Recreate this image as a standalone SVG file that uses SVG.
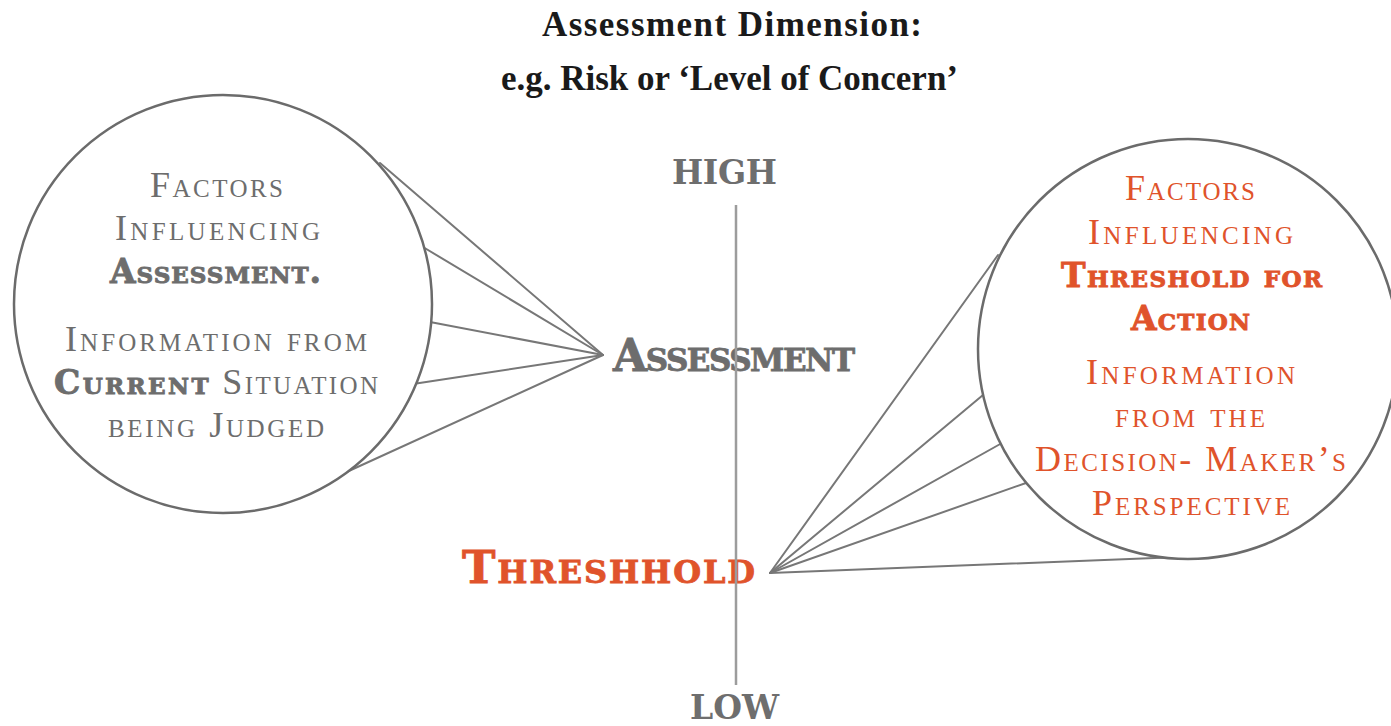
<svg xmlns="http://www.w3.org/2000/svg" width="1391" height="726" viewBox="0 0 1391 726">
<style>
.title{font-family:"Liberation Serif","DejaVu Serif",serif;font-weight:bold;font-size:35px;fill:#1a1a1a;}
.axis{font-family:"DejaVu Serif","Liberation Serif",serif;font-weight:bold;font-size:33px;fill:#6e6e6e;}
.big{font-family:"DejaVu Serif","Liberation Serif",serif;font-weight:bold;font-variant:small-caps;stroke-width:0.8px;}
.sc{font-family:"Liberation Serif","DejaVu Serif",serif;font-variant:small-caps;font-size:36px;}
.scb{font-family:"DejaVu Serif","Liberation Serif",serif;font-weight:bold;font-variant:small-caps;font-size:33px;stroke-width:0.9px;}
.gray{fill:#6d6d6d;}
.orange{fill:#e0532b;}
.scb.gray,.big.gray,.gray .scb{stroke:#6d6d6d;}
.scb.orange,.big.orange{stroke:#e0532b;}
.conn{stroke:#777;stroke-width:2;fill:none;stroke-linecap:round;}
.bubble{fill:#fff;stroke:#6b6b6b;stroke-width:2.5;}
</style>
<rect width="1391" height="726" fill="#fff"/>

<g id="title">
<text class="title" x="542" y="36" textLength="380" lengthAdjust="spacing">Assessment Dimension:</text>
<text class="title" x="501" y="90" textLength="457" lengthAdjust="spacing">e.g. Risk or ‘Level of Concern’</text>
</g>

<g id="connectors">
<line class="conn" x1="603" y1="355" x2="380" y2="163"/>
<line class="conn" x1="603" y1="355" x2="423" y2="247"/>
<line class="conn" x1="603" y1="355" x2="430" y2="322"/>
<line class="conn" x1="603" y1="355" x2="413" y2="384"/>
<line class="conn" x1="603" y1="355" x2="340" y2="475"/>
<line class="conn" x1="770" y1="573" x2="998" y2="255"/>
<line class="conn" x1="770" y1="573" x2="983" y2="395"/>
<line class="conn" x1="770" y1="573" x2="1002" y2="443"/>
<line class="conn" x1="770" y1="573" x2="1026" y2="483"/>
<line class="conn" x1="770" y1="573" x2="1180" y2="557"/>
</g>

<g id="node-assessment-factors">
<circle class="bubble" cx="223" cy="304" r="209"/>
<text class="sc gray" x="150" y="197" textLength="133" lengthAdjust="spacing">Factors</text>
<text class="sc gray" x="115" y="240" textLength="205" lengthAdjust="spacing">Influencing</text>
<text class="scb gray" x="110" y="283" textLength="211" lengthAdjust="spacing">Assessment.</text>
<text class="sc gray" x="65" y="351" textLength="302" lengthAdjust="spacing">Information from</text>
<text class="sc gray" x="54" y="394" textLength="324" lengthAdjust="spacing"><tspan class="scb">Current</tspan> Situation</text>
<text class="sc gray" x="108" y="437" textLength="216" lengthAdjust="spacing">being Judged</text>
</g>

<g id="node-threshold-factors">
<circle class="bubble" cx="1188" cy="349" r="210"/>
<text class="sc orange" x="1125" y="200" textLength="130" lengthAdjust="spacing">Factors</text>
<text class="sc orange" x="1088" y="244" textLength="205" lengthAdjust="spacing">Influencing</text>
<text class="scb orange" x="1061" y="287" textLength="261" lengthAdjust="spacing">Threshold for</text>
<text class="scb orange" x="1131" y="330" textLength="119" lengthAdjust="spacing">Action</text>
<text class="sc orange" x="1086" y="384" textLength="209" lengthAdjust="spacing">Information</text>
<text class="sc orange" x="1115" y="427" textLength="150" lengthAdjust="spacing">from the</text>
<text class="sc orange" x="1035" y="471" textLength="311" lengthAdjust="spacing">Decision- Maker’s</text>
<text class="sc orange" x="1092" y="515" textLength="198" lengthAdjust="spacing">Perspective</text>
</g>

<g id="node-high">
<text class="axis" x="672" y="184" textLength="105" lengthAdjust="spacing">HIGH</text>
</g>

<g id="node-assessment">
<text class="big gray" x="613" y="371" font-size="44" textLength="242" lengthAdjust="spacing">Assessment</text>
</g>

<g id="node-threshhold">
<text class="big orange" x="462" y="583" font-size="45" textLength="293" lengthAdjust="spacing">Threshhold</text>
</g>

<g id="node-low">
<text class="axis" x="690" y="719" textLength="89" lengthAdjust="spacing">LOW</text>
</g>

<g id="axis">
<line x1="736" y1="205" x2="736" y2="685" stroke="#9c9c9c" stroke-width="2.5"/>
</g>
</svg>
